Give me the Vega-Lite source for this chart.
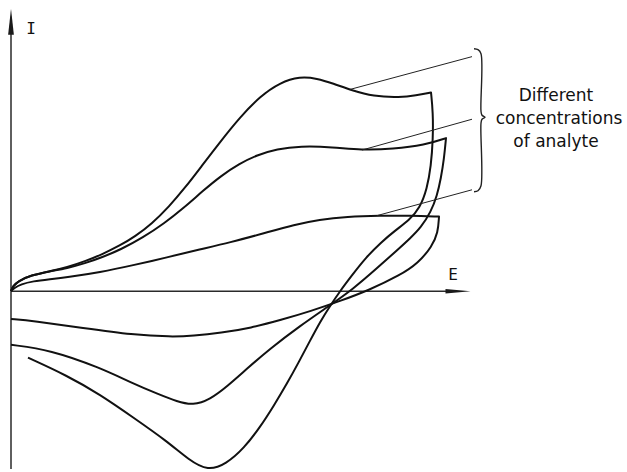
{
  "$schema": "https://vega.github.io/schema/vega-lite/v6.json",
  "width": 627,
  "height": 472,
  "padding": 0,
  "autosize": {"type": "fit", "contains": "padding"},
  "background": "white",
  "config": {"view": {"stroke": null}},
  "datasets": {
    "curves": [
      {"curve": "high", "k": 1, "e": 0, "i": 0},
      {"curve": "high", "k": 2, "e": 2, "i": 5},
      {"curve": "high", "k": 3, "e": 7, "i": 10},
      {"curve": "high", "k": 4, "e": 20, "i": 16},
      {"curve": "high", "k": 5, "e": 39, "i": 20},
      {"curve": "high", "k": 6, "e": 56, "i": 24},
      {"curve": "high", "k": 7, "e": 74, "i": 30},
      {"curve": "high", "k": 8, "e": 91, "i": 37},
      {"curve": "high", "k": 9, "e": 109, "i": 46},
      {"curve": "high", "k": 10, "e": 124, "i": 55},
      {"curve": "high", "k": 11, "e": 141, "i": 68},
      {"curve": "high", "k": 12, "e": 158, "i": 85},
      {"curve": "high", "k": 13, "e": 174, "i": 104},
      {"curve": "high", "k": 14, "e": 190, "i": 125},
      {"curve": "high", "k": 15, "e": 209, "i": 150},
      {"curve": "high", "k": 16, "e": 229, "i": 175},
      {"curve": "high", "k": 17, "e": 249, "i": 196},
      {"curve": "high", "k": 18, "e": 269, "i": 210},
      {"curve": "high", "k": 19, "e": 289, "i": 216},
      {"curve": "high", "k": 20, "e": 306, "i": 214},
      {"curve": "high", "k": 21, "e": 322, "i": 209},
      {"curve": "high", "k": 22, "e": 341, "i": 202},
      {"curve": "high", "k": 23, "e": 362, "i": 196},
      {"curve": "high", "k": 24, "e": 389, "i": 195},
      {"curve": "high", "k": 25, "e": 405, "i": 197},
      {"curve": "high", "k": 26, "e": 420, "i": 200},
      {"curve": "high", "k": 27, "e": 420, "i": 200},
      {"curve": "high", "k": 28, "e": 420, "i": 200},
      {"curve": "high", "k": 29, "e": 422, "i": 180},
      {"curve": "high", "k": 30, "e": 422, "i": 153},
      {"curve": "high", "k": 31, "e": 420, "i": 126},
      {"curve": "high", "k": 32, "e": 416, "i": 103},
      {"curve": "high", "k": 33, "e": 409, "i": 84},
      {"curve": "high", "k": 34, "e": 398, "i": 71},
      {"curve": "high", "k": 35, "e": 384, "i": 61},
      {"curve": "high", "k": 36, "e": 370, "i": 49},
      {"curve": "high", "k": 37, "e": 355, "i": 34},
      {"curve": "high", "k": 38, "e": 341, "i": 16},
      {"curve": "high", "k": 39, "e": 329, "i": 0},
      {"curve": "high", "k": 40, "e": 319, "i": -15},
      {"curve": "high", "k": 41, "e": 309, "i": -31},
      {"curve": "high", "k": 42, "e": 299, "i": -50},
      {"curve": "high", "k": 43, "e": 288, "i": -71},
      {"curve": "high", "k": 44, "e": 276, "i": -93},
      {"curve": "high", "k": 45, "e": 263, "i": -115},
      {"curve": "high", "k": 46, "e": 249, "i": -137},
      {"curve": "high", "k": 47, "e": 233, "i": -158},
      {"curve": "high", "k": 48, "e": 215, "i": -174},
      {"curve": "high", "k": 49, "e": 197, "i": -181},
      {"curve": "high", "k": 50, "e": 178, "i": -170},
      {"curve": "high", "k": 51, "e": 156, "i": -151},
      {"curve": "high", "k": 52, "e": 122, "i": -127},
      {"curve": "high", "k": 53, "e": 89, "i": -104},
      {"curve": "high", "k": 54, "e": 56, "i": -85},
      {"curve": "high", "k": 55, "e": 17, "i": -67},

      {"curve": "mid", "k": 1, "e": 0, "i": 0},
      {"curve": "mid", "k": 2, "e": 2, "i": 5},
      {"curve": "mid", "k": 3, "e": 7, "i": 10},
      {"curve": "mid", "k": 4, "e": 20, "i": 16},
      {"curve": "mid", "k": 5, "e": 39, "i": 20},
      {"curve": "mid", "k": 6, "e": 56, "i": 23},
      {"curve": "mid", "k": 7, "e": 74, "i": 28},
      {"curve": "mid", "k": 8, "e": 91, "i": 34},
      {"curve": "mid", "k": 9, "e": 110, "i": 42},
      {"curve": "mid", "k": 10, "e": 132, "i": 54},
      {"curve": "mid", "k": 11, "e": 153, "i": 68},
      {"curve": "mid", "k": 12, "e": 173, "i": 84},
      {"curve": "mid", "k": 13, "e": 192, "i": 101},
      {"curve": "mid", "k": 14, "e": 210, "i": 116},
      {"curve": "mid", "k": 15, "e": 228, "i": 128},
      {"curve": "mid", "k": 16, "e": 246, "i": 137},
      {"curve": "mid", "k": 17, "e": 266, "i": 143},
      {"curve": "mid", "k": 18, "e": 289, "i": 146},
      {"curve": "mid", "k": 19, "e": 322, "i": 145},
      {"curve": "mid", "k": 20, "e": 350, "i": 142},
      {"curve": "mid", "k": 21, "e": 382, "i": 143},
      {"curve": "mid", "k": 22, "e": 414, "i": 147},
      {"curve": "mid", "k": 23, "e": 435, "i": 154},
      {"curve": "mid", "k": 24, "e": 435, "i": 154},
      {"curve": "mid", "k": 25, "e": 435, "i": 154},
      {"curve": "mid", "k": 26, "e": 433, "i": 133},
      {"curve": "mid", "k": 27, "e": 430, "i": 114},
      {"curve": "mid", "k": 28, "e": 426, "i": 96},
      {"curve": "mid", "k": 29, "e": 420, "i": 80},
      {"curve": "mid", "k": 30, "e": 410, "i": 64},
      {"curve": "mid", "k": 31, "e": 399, "i": 53},
      {"curve": "mid", "k": 32, "e": 387, "i": 42},
      {"curve": "mid", "k": 33, "e": 366, "i": 23},
      {"curve": "mid", "k": 34, "e": 342, "i": 2},
      {"curve": "mid", "k": 35, "e": 318, "i": -15},
      {"curve": "mid", "k": 36, "e": 289, "i": -35},
      {"curve": "mid", "k": 37, "e": 259, "i": -58},
      {"curve": "mid", "k": 38, "e": 236, "i": -78},
      {"curve": "mid", "k": 39, "e": 216, "i": -96},
      {"curve": "mid", "k": 40, "e": 199, "i": -109},
      {"curve": "mid", "k": 41, "e": 182, "i": -115},
      {"curve": "mid", "k": 42, "e": 166, "i": -111},
      {"curve": "mid", "k": 43, "e": 148, "i": -104},
      {"curve": "mid", "k": 44, "e": 120, "i": -92},
      {"curve": "mid", "k": 45, "e": 89, "i": -77},
      {"curve": "mid", "k": 46, "e": 39, "i": -59},
      {"curve": "mid", "k": 47, "e": 0, "i": -54},

      {"curve": "low", "k": 1, "e": 0, "i": 0},
      {"curve": "low", "k": 2, "e": 3, "i": 3},
      {"curve": "low", "k": 3, "e": 10, "i": 7},
      {"curve": "low", "k": 4, "e": 22, "i": 10},
      {"curve": "low", "k": 5, "e": 39, "i": 12},
      {"curve": "low", "k": 6, "e": 56, "i": 14},
      {"curve": "low", "k": 7, "e": 89, "i": 19},
      {"curve": "low", "k": 8, "e": 122, "i": 26},
      {"curve": "low", "k": 9, "e": 156, "i": 34},
      {"curve": "low", "k": 10, "e": 189, "i": 42},
      {"curve": "low", "k": 11, "e": 219, "i": 49},
      {"curve": "low", "k": 12, "e": 252, "i": 58},
      {"curve": "low", "k": 13, "e": 284, "i": 67},
      {"curve": "low", "k": 14, "e": 308, "i": 72},
      {"curve": "low", "k": 15, "e": 336, "i": 75},
      {"curve": "low", "k": 16, "e": 369, "i": 76},
      {"curve": "low", "k": 17, "e": 399, "i": 76},
      {"curve": "low", "k": 18, "e": 428, "i": 75},
      {"curve": "low", "k": 19, "e": 428, "i": 75},
      {"curve": "low", "k": 20, "e": 428, "i": 75},
      {"curve": "low", "k": 21, "e": 427, "i": 59},
      {"curve": "low", "k": 22, "e": 421, "i": 45},
      {"curve": "low", "k": 23, "e": 407, "i": 28},
      {"curve": "low", "k": 24, "e": 389, "i": 16},
      {"curve": "low", "k": 25, "e": 358, "i": 1},
      {"curve": "low", "k": 26, "e": 329, "i": -10},
      {"curve": "low", "k": 27, "e": 300, "i": -20},
      {"curve": "low", "k": 28, "e": 270, "i": -29},
      {"curve": "low", "k": 29, "e": 240, "i": -37},
      {"curve": "low", "k": 30, "e": 210, "i": -42},
      {"curve": "low", "k": 31, "e": 182, "i": -45},
      {"curve": "low", "k": 32, "e": 160, "i": -46},
      {"curve": "low", "k": 33, "e": 122, "i": -44},
      {"curve": "low", "k": 34, "e": 72, "i": -37},
      {"curve": "low", "k": 35, "e": 22, "i": -30},
      {"curve": "low", "k": 36, "e": 0, "i": -28}
    ],
    "axes": [
      {"g": "I-axis", "k": 1, "e": 0, "i": -179},
      {"g": "I-axis", "k": 2, "e": 0, "i": 262},
      {"g": "E-axis", "k": 1, "e": 0, "i": 0},
      {"g": "E-axis", "k": 2, "e": 440, "i": 0}
    ],
    "leaders": [
      {"g": "l1", "k": 1, "e": 461, "i": 236},
      {"g": "l1", "k": 2, "e": 339, "i": 203},
      {"g": "l2", "k": 1, "e": 461, "i": 173},
      {"g": "l2", "k": 2, "e": 351, "i": 142},
      {"g": "l3", "k": 1, "e": 461, "i": 102},
      {"g": "l3", "k": 2, "e": 366, "i": 76}
    ],
    "brace": [
      {"k": 1, "e": 463, "i": 244},
      {"k": 2, "e": 467, "i": 243},
      {"k": 3, "e": 470, "i": 239},
      {"k": 4, "e": 470, "i": 181},
      {"k": 5, "e": 471, "i": 177},
      {"k": 6, "e": 474, "i": 175},
      {"k": 7, "e": 471, "i": 173},
      {"k": 8, "e": 470, "i": 169},
      {"k": 9, "e": 470, "i": 106},
      {"k": 10, "e": 467, "i": 101},
      {"k": 11, "e": 463, "i": 100}
    ],
    "iHead": [{"e": 0, "i": 271}],
    "eHead": [{"e": 447, "i": 0}],
    "axisNames": [
      {"label": "I", "e": 20, "i": 259},
      {"label": "E", "e": 442, "i": 11}
    ],
    "note": [
      {"label": "Different", "e": 545, "i": 191},
      {"label": "concentrations", "e": 548, "i": 168},
      {"label": "of analyte", "e": 545, "i": 145}
    ]
  },
  "encoding": {
    "x": {"field": "e", "type": "quantitative", "scale": {"domain": [-11, 616], "nice": false, "zero": false}, "axis": null},
    "y": {"field": "i", "type": "quantitative", "scale": {"domain": [-179, 293], "nice": false, "zero": false}, "axis": null}
  },
  "layer": [
    {
      "data": {"name": "axes"},
      "mark": {"type": "line", "color": "#2a2a2a", "strokeWidth": 1.5},
      "encoding": {"detail": {"field": "g"}, "order": {"field": "k"}}
    },
    {
      "data": {"name": "iHead"},
      "mark": {"type": "point", "filled": true, "color": "#1a1a1a", "opacity": 1, "shape": "M0,-1L0.22,1L-0.22,1Z", "size": 676}
    },
    {
      "data": {"name": "eHead"},
      "mark": {"type": "point", "filled": true, "color": "#1a1a1a", "opacity": 1, "shape": "M1,0L-1,0.18L-1,-0.18Z", "size": 625}
    },
    {
      "data": {"name": "curves"},
      "mark": {"type": "line", "color": "#111111", "strokeWidth": 2, "interpolate": "basis", "strokeJoin": "round"},
      "encoding": {"detail": {"field": "curve"}, "order": {"field": "k"}}
    },
    {
      "data": {"name": "leaders"},
      "mark": {"type": "line", "color": "#222222", "strokeWidth": 1},
      "encoding": {"detail": {"field": "g"}, "order": {"field": "k"}}
    },
    {
      "data": {"name": "brace"},
      "mark": {"type": "line", "color": "#222222", "strokeWidth": 1.4, "interpolate": "catmull-rom"},
      "encoding": {"order": {"field": "k"}}
    },
    {
      "data": {"name": "axisNames"},
      "mark": {"type": "text", "font": "DejaVu Sans Mono", "fontSize": 16, "color": "#111111", "align": "center", "baseline": "alphabetic"},
      "encoding": {"text": {"field": "label"}}
    },
    {
      "data": {"name": "note"},
      "mark": {"type": "text", "font": "DejaVu Sans", "fontSize": 17, "color": "#111111", "align": "center", "baseline": "alphabetic"},
      "encoding": {"text": {"field": "label"}}
    }
  ]
}
